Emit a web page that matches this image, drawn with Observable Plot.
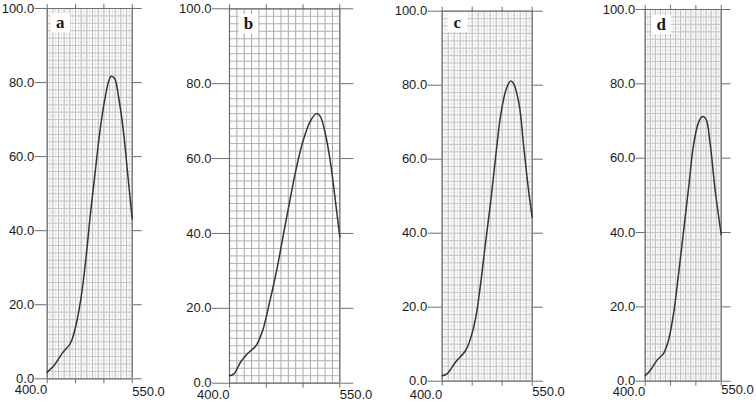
<!DOCTYPE html>
<html><head><meta charset="utf-8">
<script src="https://cdn.jsdelivr.net/npm/d3@7"></script>
<script src="https://cdn.jsdelivr.net/npm/@observablehq/plot@0.6"></script>
<style>
html,body{margin:0;padding:0;background:#fff;}
#chart{position:relative;width:756px;height:403px;overflow:hidden;background:#fff;}
#chart svg{position:absolute;left:0;top:0;}
</style></head><body><div id="chart"></div>
<script>
// ---- data ----
const panelLabels = ["a", "b", "c", "d"];
const yTicks = [0, 20, 40, 60, 80, 100];
const xTicks = [400, 450, 500, 550];
const xStartLabel = [400];
const xEndLabel = [550];

const aWavelength = [400, 412, 426, 441, 450, 459, 468, 476, 485, 494, 503, 509, 513, 519, 526, 535, 542, 550];
const aIntensity  = [1.8, 3.6, 6.8, 9.6, 14, 21.2, 32, 44.1, 56.3, 68, 76.6, 80.6, 81.7, 81.1, 76.1, 66.2, 55.4, 43.2];

const bWavelength = [400, 406, 415, 424, 436, 445, 454, 464, 473, 482, 491, 500, 510, 518, 523, 530, 537, 544, 550];
const bIntensity  = [2.0, 2.5, 5.6, 7.8, 10, 14, 21.2, 30, 39.4, 48.7, 57.6, 64.7, 70, 72, 71.4, 66.9, 59.4, 48.7, 39.1];

const cWavelength = [400, 408, 422, 439, 447, 456, 464, 472, 481, 489, 497, 506, 514, 519, 528, 536, 544, 550];
const cIntensity  = [1.5, 2.0, 5.1, 8.3, 11.4, 17.3, 26.3, 37.1, 48.8, 60.5, 71.4, 78.6, 81.1, 80.4, 75, 63.2, 51.5, 44.3];

const dWavelength = [400, 410, 423, 436, 446, 456, 466, 476, 486, 495, 505, 513, 520, 528, 538, 550];
const dIntensity  = [1.5, 2.9, 5.6, 7.4, 11, 18.2, 29, 40.7, 52.4, 63.2, 69.5, 71.2, 70.5, 64.1, 51.5, 39.4];

const series = [
  {wl: aWavelength, v: aIntensity},
  {wl: bWavelength, v: bIntensity},
  {wl: cWavelength, v: cIntensity},
  {wl: dWavelength, v: dIntensity}
];

// ---- layout (pixels) ----
const W = 756, H = 403;
const layout = [
  {left: 46.7, right: 131.7, top: 8,    bottom: 378.3, tickL: 12, tickR: 9,  fine: true,  d400: 11.5, d550: 13,   lx: 13, ly: 14},
  {left: 229,  right: 339.3, top: 8.3,  bottom: 382.7, tickL: 17, tickR: 13, fine: false, d400: 11.5, d550: 11.5, lx: 19, ly: 15},
  {left: 441.7,right: 531.7, top: 10.7, bottom: 380.7, tickL: 14, tickR: 10, fine: true,  d400: 13.5, d550: 10.5, lx: 15, ly: 11},
  {left: 644.7,right: 720.7, top: 9,    bottom: 380.7, tickL: 9,  tickR: 9,  fine: true,  d400: 11,   d550: 9,    lx: 16, ly: 15}
];

const chart = document.getElementById("chart");
const axisColor = "#6e6e6e";
const textColor = "#1a1a1a";

series.forEach((s, i) => {
  const L = layout[i];
  const data = s.wl.map((w, k) => ({w, v: s.v[k]}));
  const gridMarks = L.fine
    ? [
        Plot.gridX(d3.range(400, 551, 5), {stroke: "#e2e2e2", strokeOpacity: 1}),
        Plot.gridY(d3.range(0, 101, 1), {stroke: "#ebebeb", strokeOpacity: 1}),
        Plot.gridX(d3.range(400, 551, 10), {stroke: "#bdbdbd", strokeOpacity: 1}),
        Plot.gridY(d3.range(0, 101, 2), {stroke: "#c6c6c6", strokeOpacity: 1})
      ]
    : [
        Plot.gridX(d3.range(400, 551, 10), {stroke: "#a8a8a8", strokeOpacity: 1}),
        Plot.gridY(d3.range(0, 101, 2), {stroke: "#b0b0b0", strokeOpacity: 1})
      ];
  const svg = Plot.plot({
    width: W, height: H,
    marginLeft: L.left, marginRight: W - L.right,
    marginTop: L.top, marginBottom: H - L.bottom,
    x: {domain: [400, 550]},
    y: {domain: [0, 100]},
    style: {background: "transparent", fontFamily: "'Liberation Sans', Arial, sans-serif", fontSize: "13px", color: textColor, overflow: "visible"},
    marks: [
      ...gridMarks,
      Plot.ruleX([xStartLabel[0], xEndLabel[0]], {stroke: axisColor, strokeWidth: 1.2}),
      Plot.ruleY([yTicks[0], yTicks[yTicks.length - 1]], {stroke: axisColor, strokeWidth: 1.2}),
      Plot.axisY(yTicks, {anchor: "left", tickSize: L.tickL, tickPadding: 1, tickFormat: d => d.toFixed(1), stroke: axisColor, fill: textColor, label: null}),
      Plot.axisY(yTicks, {anchor: "right", tickSize: L.tickR, tickFormat: () => "", stroke: axisColor, label: null}),
      Plot.axisX(xTicks, {anchor: "bottom", tickSize: 5, tickFormat: () => "", stroke: axisColor, label: null}),
      Plot.axisX(xTicks, {anchor: "top", tickSize: 5, tickFormat: () => "", stroke: axisColor, label: null}),
      Plot.text(xStartLabel, {x: d => d, text: d => d.toFixed(1), frameAnchor: "bottom", lineAnchor: "middle", textAnchor: "end", dy: L.d400, dx: 0, fill: textColor}),
      Plot.text(xEndLabel, {x: d => d, text: d => d.toFixed(1), frameAnchor: "bottom", lineAnchor: "middle", textAnchor: "start", dy: L.d550, dx: 0, fill: textColor}),
      Plot.line(data, {x: "w", y: "v", curve: "catmull-rom", stroke: "#333", strokeWidth: 1.5}),
      Plot.dot([panelLabels[i]], {frameAnchor: "top-left", dx: L.lx, dy: L.ly, symbol: "square", r: 11, fill: "white", stroke: "none"}),
      Plot.text([panelLabels[i]], {frameAnchor: "top-left", dx: L.lx, dy: L.ly, text: d => d, textAnchor: "middle", lineAnchor: "middle", fontFamily: "'Liberation Serif', 'Times New Roman', serif", fontWeight: "bold", fontSize: 17, fill: textColor})
    ]
  });
  chart.appendChild(svg);
});
</script></body></html>
